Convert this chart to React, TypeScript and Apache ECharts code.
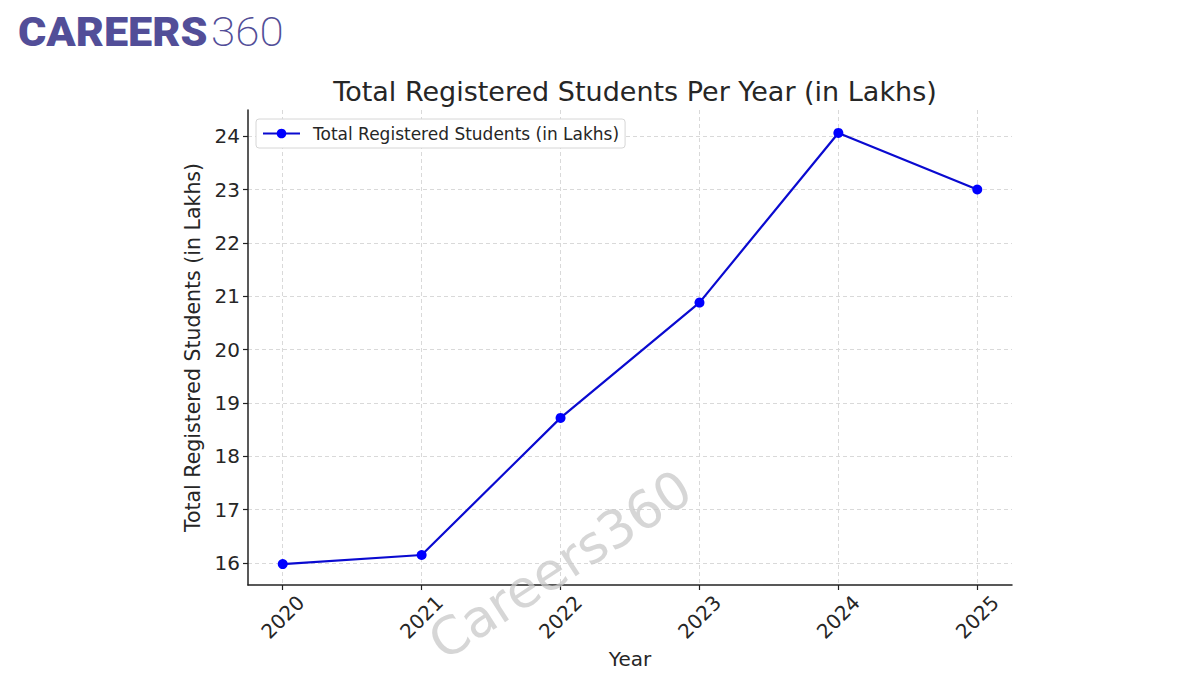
import React, { useEffect, useRef } from "react";
import * as echarts from "echarts";

const years = [2020, 2021, 2022, 2023, 2024, 2025];
const students = [15.98, 16.15, 18.72, 20.88, 24.06, 23.0];
const yTicks = [16, 17, 18, 19, 20, 21, 22, 23, 24];
const titleText = "Total Registered Students Per Year (in Lakhs)";
const seriesName = "Total Registered Students (in Lakhs)";
const yName = "Total Registered Students (in Lakhs)";
const xName = "Year";

const FONT = "DejaVu Sans";

export default function App() {
  const ref = useRef<HTMLDivElement>(null);
  useEffect(() => {
    if (!ref.current) return;
    const chart = echarts.init(ref.current, undefined, { renderer: "svg" });
    const data = years.map((y, i) => [y, students[i]]);
    chart.setOption({
      animation: false,
      backgroundColor: "#ffffff",
      title: {
        text: titleText,
        left: 630,
        textAlign: "center",
        top: 73,
        textStyle: { fontFamily: FONT, fontSize: 27, fontWeight: "normal", color: "#262626" },
      },
      legend: {
        left: 256,
        top: 119,
        padding: [6, 6, 6, 6],
        itemWidth: 37,
        itemHeight: 12,
        itemGap: 10,
        borderColor: "#d6d6d6",
        borderWidth: 1,
        borderRadius: 3,
        backgroundColor: "#ffffff",
        textStyle: { fontFamily: FONT, fontSize: 17, color: "#262626", padding: [0, 0, 0, 8] },
        data: [{ name: seriesName }],
      },
      grid: { left: 248, right: 188, top: 110, bottom: 90, containLabel: false },
      xAxis: {
        type: "value",
        min: 2019.75,
        max: 2025.25,
        name: xName,
        nameLocation: "middle",
        nameGap: 62,
        nameTextStyle: { fontFamily: FONT, fontSize: 20, color: "#262626" },
        axisLine: { show: true, onZero: false, lineStyle: { color: "#222", width: 1.5 } },
        axisTick: { show: true, length: 5, customValues: years, lineStyle: { color: "#222", width: 1.2 } },
        axisLabel: {
          customValues: years,
          rotate: 45,
          align: "center",
          verticalAlign: "middle",
          margin: 32,
          fontFamily: FONT,
          fontSize: 20,
          color: "#262626",
          formatter: (v: number) => String(v),
        },
        splitLine: { show: true, lineStyle: { color: "#d9d9d9", type: [4, 3], width: 1 } },
      },
      yAxis: {
        type: "value",
        min: 15.588,
        max: 24.49,
        name: yName,
        nameLocation: "middle",
        nameRotate: 90,
        nameGap: 41,
        nameTextStyle: { fontFamily: FONT, fontSize: 20.5, color: "#262626" },
        axisLine: { show: true, lineStyle: { color: "#222", width: 1.5 } },
        axisTick: { show: true, length: 5, customValues: yTicks, lineStyle: { color: "#222", width: 1.2 } },
        axisLabel: {
          customValues: yTicks,
          margin: 8,
          fontFamily: FONT,
          fontSize: 20,
          color: "#262626",
          formatter: (v: number) => String(v),
        },
        splitLine: { show: true, lineStyle: { color: "#d9d9d9", type: [4, 3], width: 1 } },
      },
      series: [
        {
          name: seriesName,
          type: "line",
          data,
          symbol: "circle",
          symbolSize: 10,
          lineStyle: { color: "#0a0ad0", width: 2.2 },
          itemStyle: { color: "#0000ff" },
          z: 3,
        },
      ],
      graphic: [
        {
          type: "text",
          x: 18,
          y: 12,
          scaleX: 1.08,
          style: {
            text: "CAREERS",
            font: "900 40px Roboto",
            fill: "#524e98",
          },
        },
        {
          type: "text",
          x: 211,
          y: 12,
          scaleX: 1.1,
          style: {
            text: "360",
            font: "200 40px Roboto",
            fill: "#524e98",
          },
        },
        {
          type: "text",
          x: 560,
          y: 565,
          rotation: (33 * Math.PI) / 180,
          z: 10,
          style: {
            text: "Careers360",
            font: "52px 'DejaVu Sans'",
            fill: "rgba(200,200,200,0.75)",
            align: "center",
            verticalAlign: "middle",
          },
        },
      ],
    });
    return () => chart.dispose();
  }, []);
  return <div ref={ref} style={{ width: 1200, height: 675, position: "absolute", left: 0, top: 0 }} />;
}
